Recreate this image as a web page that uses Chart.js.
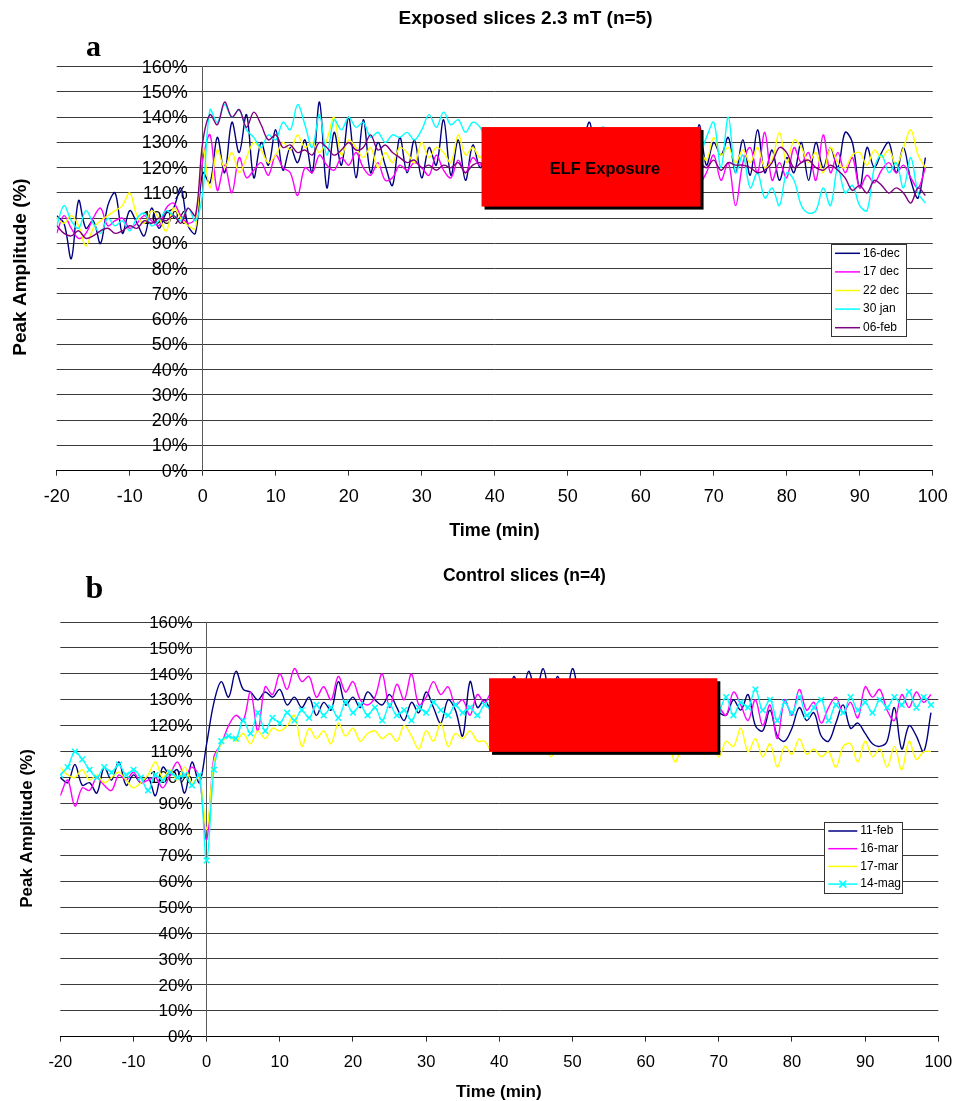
<!DOCTYPE html>
<html>
<head>
<meta charset="utf-8">
<script src="https://cdn.jsdelivr.net/npm/chart.js@4.4.1/dist/chart.umd.min.js"></script>
<style>
body { margin: 0; background: #fff; }
.wrap { position: absolute; left: 0; width: 956px; }
</style>
</head>
<body>
<div class="wrap" style="top:0;height:555px"><canvas id="chartA" width="956" height="555"></canvas></div>
<div class="wrap" style="top:550px;height:551px"><canvas id="chartB" width="956" height="551"></canvas></div>
<script>
// time in minutes, one sample per minute
const time = [-20, -19, -18, -17, -16, -15, -14, -13, -12, -11, -10, -9, -8, -7, -6, -5, -4, -3, -2, -1,
	0, 1, 2, 3, 4, 5, 6, 7, 8, 9, 10, 11, 12, 13, 14, 15, 16, 17, 18, 19,
	20, 21, 22, 23, 24, 25, 26, 27, 28, 29, 30, 31, 32, 33, 34, 35, 36, 37, 38, 39,
	40, 41, 42, 43, 44, 45, 46, 47, 48, 49, 50, 51, 52, 53, 54, 55, 56, 57, 58, 59,
	60, 61, 62, 63, 64, 65, 66, 67, 68, 69, 70, 71, 72, 73, 74, 75, 76, 77, 78, 79,
	80, 81, 82, 83, 84, 85, 86, 87, 88, 89, 90, 91, 92, 93, 94, 95, 96, 97, 98, 99];

const yTicks = [0, 10, 20, 30, 40, 50, 60, 70, 80, 90, 100, 110, 120, 130, 140, 150, 160];
const xTicks = [-20, -10, 0, 10, 20, 30, 40, 50, 60, 70, 80, 90, 100];

// (a) exposed slices
const labelsA = ['16-dec', '17 dec', '22 dec', '30 jan', '06-feb'];
const dec16 = [101, 98, 84, 107, 96, 99, 90, 105, 110, 94, 103, 98, 93, 104, 96, 102, 104, 112, 97, 94,
	118, 114, 132, 118, 138, 126, 141, 116, 130, 121, 135, 119, 128, 122, 131, 118, 146, 112, 134, 121,
	140, 116, 139, 118, 130, 121, 113, 132, 118, 131, 116, 128, 121, 139, 117, 131, 115, 129,
	120, 126, 118, 129, 121, 127, 115, 130, 122, 126, 119, 131, 124, 120, 128, 138, 122, 127, 118, 130,
	123, 126, 117, 129, 122, 128, 120, 131, 124, 120,
	137, 121, 130, 125, 132, 118, 131, 117, 135, 118, 127, 115, 124, 118, 130, 115, 130, 120, 128, 120,
	134, 130, 112, 128, 120, 126, 130, 118, 128, 115, 108, 124];
const dec17 = [94, 101, 96, 92, 94, 100, 104, 97, 99, 100, 96, 98, 101, 99, 97, 104, 106, 101, 98, 100,
	123, 133, 111, 121, 110, 124, 116, 119, 122, 117, 125, 120, 118, 109, 120, 118, 125, 121, 119, 124,
	121, 126, 120, 117, 122, 115, 116, 121, 119, 122, 120, 117, 125, 119, 116, 123, 118, 124,
	121, 125, 118, 123, 120, 126, 119, 122, 117, 124, 121, 119, 125, 118, 122, 120, 126, 119, 123, 117,
	122, 125, 119, 121, 124, 118, 122, 120, 125, 118,
	114, 118, 125, 115, 122, 105, 122, 128, 118, 134, 115, 122, 116, 128, 122, 126, 115, 133, 118, 126,
	118, 124, 112, 117, 114, 119, 122, 118, 121, 116, 112, 120];
const dec22 = [100, 98, 101, 97, 89, 96, 99, 101, 103, 105, 110, 101, 98, 103, 100, 95, 104, 100, 97, 96,
	128, 112, 127, 120, 126, 118, 124, 130, 127, 122, 125, 130, 127, 133, 128, 130, 126, 131, 140, 125,
	131, 128, 124, 128, 120, 126, 122, 128, 126, 122, 130, 124, 128, 126, 122, 133, 125, 128,
	124, 129, 122, 127, 125, 130, 123, 126, 128, 122, 127, 124, 129, 125, 122, 128, 126, 123, 129, 124,
	127, 122, 126, 129, 123, 127, 125, 122, 128, 124,
	127, 123, 132, 125, 128, 122, 127, 122, 128, 120, 123, 134, 122, 131, 128, 122, 126, 118, 128, 122,
	120, 125, 126, 121, 127, 124, 127, 121, 128, 135, 125, 120];
const jan30 = [97, 105, 99, 96, 103, 98, 94, 100, 97, 99, 95, 100, 102, 97, 99, 103, 101, 99, 104, 99,
	110, 143, 138, 145, 140, 143, 135, 132, 128, 133, 131, 138, 135, 145, 137, 128, 141, 125, 139, 135,
	140, 136, 138, 132, 134, 130, 133, 132, 134, 131, 135, 141, 136, 142, 137, 139, 134, 138,
	136, 131, 134, 129, 133, 130, 135, 128, 132, 134, 129, 131, 127, 133, 130, 128, 134, 136, 130, 127,
	132, 129, 131, 126, 130, 128, 132, 127, 130, 126,
	125, 132, 138, 120, 140, 118, 125, 112, 118, 108, 112, 105, 118, 115, 105, 102, 103, 112, 105, 120,
	110, 113, 105, 103, 120, 125, 118, 122, 112, 124, 110, 106];
const feb06 = [97, 94, 93, 95, 92, 93, 95, 96, 94, 95, 97, 96, 99, 98, 100, 99, 101, 98, 104, 101,
	130, 141, 137, 146, 140, 143, 136, 142, 137, 131, 133, 128, 129, 126, 127, 125, 130, 128, 125, 127,
	130, 127, 128, 133, 127, 129, 126, 124, 122, 123, 120, 121, 119, 121, 120, 122, 118, 121,
	122, 120, 123, 121, 119, 122, 124, 120, 121, 123, 120, 122, 119, 121, 124, 120, 122, 121, 123, 119,
	121, 122, 120, 124, 121, 119, 122, 123, 120, 121,
	122, 120, 123, 119, 122, 121, 121, 120, 118, 119, 122, 128, 126, 120, 122, 123, 120, 119, 121, 119,
	116, 111, 113, 110, 115, 113, 110, 112, 110, 106, 112, 109];
const colorsA = ['#000080', '#ff00ff', '#ffff00', '#00ffff', '#800080'];

// (b) control slices
const labelsB = ['11-feb', '16-mar', '17-mar', '14-mag'];
const feb11 = [100, 98, 105, 97, 98, 94, 104, 99, 106, 97, 101, 98, 100, 93, 104, 101, 103, 94, 106, 98,
	113, 129, 137, 131, 141, 134, 133, 130, 133, 131, 134, 128, 131, 127, 131, 124, 129, 126, 137, 128,
	131, 127, 133, 130, 128, 132, 127, 122, 129, 125, 133, 127, 121, 130, 126, 116, 137, 127,
	130, 125, 132, 128, 139, 130, 141, 133, 142, 131, 139, 129, 142, 132, 130, 128, 133, 127, 131, 129,
	125, 132, 128, 130, 126, 131, 127, 129, 124, 130, 128, 126,
	125, 124, 130, 126, 132, 120, 118, 126, 116, 114, 119, 127, 122, 125, 116, 114, 121, 128, 119, 121,
	117, 113, 112, 114, 127, 111, 120, 116, 110, 125];
const mar16 = [93, 99, 89, 96, 95, 100, 97, 95, 101, 99, 102, 98, 99, 100, 96, 101, 106, 101, 104, 100,
	76, 108, 113, 120, 124, 122, 133, 118, 135, 132, 140, 134, 142, 137, 139, 131, 135, 130, 139, 133,
	137, 130, 128, 131, 140, 127, 136, 130, 140, 128, 131, 137, 132, 135, 128, 130, 124, 132,
	129, 133, 127, 131, 128, 134, 126, 130, 128, 132, 127, 133, 129, 126, 131, 128, 136, 129, 127, 132,
	126, 130, 128, 133, 127, 129, 125, 131, 128, 126, 130, 127,
	127, 124, 133, 128, 122, 130, 120, 128, 115, 130, 124, 134, 126, 129, 121, 127, 131, 125, 129, 123,
	135, 131, 134, 126, 122, 132, 127, 133, 129, 132];
const mar17 = [104, 101, 100, 103, 99, 101, 98, 100, 102, 99, 96, 98, 101, 106, 100, 103, 99, 104, 98, 100,
	80, 106, 113, 116, 114, 117, 113, 118, 115, 119, 118, 120, 124, 112, 119, 115, 118, 113, 121, 116,
	119, 114, 117, 118, 115, 117, 114, 120, 116, 111, 118, 114, 121, 112, 117, 115, 118, 114,
	114, 110, 116, 112, 115, 111, 114, 112, 116, 108, 113, 115, 112, 114, 111, 115, 113, 112, 114, 110,
	115, 112, 114, 113, 111, 115, 106, 112, 114, 111, 109, 113,
	108, 114, 112, 119, 110, 115, 108, 113, 104, 112, 109, 115, 109, 111, 108, 110, 104, 112, 113, 106,
	114, 108, 111, 104, 112, 103, 114, 107, 110, 110];
const mag14 = [101, 104, 110, 107, 103, 100, 104, 102, 105, 101, 103, 100, 95, 101, 99, 102, 100, 101, 97, 101,
	68, 103, 114, 116, 115, 122, 117, 125, 118, 123, 121, 125, 122, 126, 123, 128, 124, 127, 123, 129,
	125, 128, 124, 127, 122, 128, 124, 126, 122, 127, 125, 129, 126, 124, 128, 125, 127, 124,
	128, 126, 130, 127, 125, 129, 126, 128, 124, 127, 130, 126, 128, 125, 129, 127, 126, 130, 128, 125,
	127, 129, 126, 128, 124, 127, 129, 126, 128, 125, 127, 126,
	126, 131, 124, 129, 127, 134, 126, 130, 122, 129, 125, 131, 124, 127, 130, 122, 128, 125, 131, 126,
	129, 125, 130, 127, 131, 128, 133, 127, 131, 128];
const colorsB = ['#000080', '#ff00ff', '#ffff00', '#00ffff'];

const FONT = '"Liberation Sans", Arial, sans-serif';

const toPoints = (values) => time.map((t, i) => ({ x: t, y: values[i] }));

const decoPlugin = {
	id: 'deco',
	beforeDatasetsDraw(chart, args, opts) {
		// y tick labels sit left of the axis drawn at x = 0
		const { ctx } = chart;
		const x = chart.scales.x;
		const y = chart.scales.y;
		const ax = x.getPixelForValue(0);
		ctx.save();
		ctx.fillStyle = '#000';
		ctx.font = opts.yLabels.size + 'px ' + FONT;
		ctx.textAlign = 'right';
		ctx.textBaseline = 'middle';
		y.ticks.forEach((t) => {
			ctx.fillText(t.value + '%', ax - opts.yLabels.gap, y.getPixelForValue(t.value) + 1);
		});
		ctx.restore();
	},
	afterDatasetsDraw(chart, args, opts) {
		const { ctx } = chart;
		const x = chart.scales.x;
		const y = chart.scales.y;
		const b = opts.box;
		const l = x.getPixelForValue(b.x0);
		const r = x.getPixelForValue(b.x1);
		const t = y.getPixelForValue(b.y1);
		const btm = y.getPixelForValue(b.y0);
		ctx.save();
		ctx.fillStyle = '#000';
		ctx.fillRect(l + 3, t + 3, r - l, btm - t);
		ctx.fillStyle = '#ff0000';
		ctx.fillRect(l, t, r - l, btm - t);
		if (b.text) {
			ctx.fillStyle = '#000';
			ctx.font = 'bold ' + b.textSize + 'px ' + FONT;
			ctx.textAlign = 'center';
			ctx.textBaseline = 'middle';
			ctx.fillText(b.text, x.getPixelForValue(b.tx), y.getPixelForValue(b.ty));
		}
		ctx.restore();
	},
	afterDraw(chart, args, opts) {
		const { ctx } = chart;
		ctx.save();
		ctx.fillStyle = '#000';
		ctx.textAlign = 'center';
		ctx.textBaseline = 'middle';
		// chart title
		ctx.font = 'bold ' + opts.title.size + 'px ' + FONT;
		ctx.fillText(opts.title.text, opts.title.x, opts.title.y);
		// x axis title
		ctx.font = 'bold ' + opts.xTitle.size + 'px ' + FONT;
		ctx.fillText(opts.xTitle.text, opts.xTitle.x, opts.xTitle.y);
		// y axis title
		ctx.save();
		ctx.translate(opts.yTitle.x, opts.yTitle.y);
		ctx.rotate(-Math.PI / 2);
		ctx.font = 'bold ' + opts.yTitle.size + 'px ' + FONT;
		ctx.fillText(opts.yTitle.text, 0, 0);
		ctx.restore();
		// panel letter
		ctx.textBaseline = 'alphabetic';
		ctx.font = 'bold ' + opts.letter.size + 'px "Liberation Serif", "Times New Roman", serif';
		ctx.fillText(opts.letter.text, opts.letter.x, opts.letter.y);
		// legend
		const lg = opts.legend;
		ctx.fillStyle = '#fff';
		ctx.fillRect(lg.x, lg.y, lg.w, lg.h);
		ctx.strokeStyle = '#333';
		ctx.lineWidth = 1;
		ctx.strokeRect(Math.round(lg.x) + 0.5, Math.round(lg.y) + 0.5, Math.round(lg.w), Math.round(lg.h));
		ctx.font = lg.size + 'px ' + FONT;
		ctx.textAlign = 'left';
		ctx.textBaseline = 'middle';
		chart.data.datasets.forEach((ds, i) => {
			const ry = lg.y + lg.first + i * lg.step;
			ctx.strokeStyle = ds.borderColor;
			ctx.lineWidth = 1.5;
			ctx.beginPath();
			ctx.moveTo(lg.x + 4, ry);
			ctx.lineTo(lg.x + 4 + lg.line, ry);
			ctx.stroke();
			if (ds.pointRadius > 0) {
				const cx = lg.x + 4 + lg.line / 2;
				ctx.beginPath();
				ctx.moveTo(cx - 3.5, ry - 3.5);
				ctx.lineTo(cx + 3.5, ry + 3.5);
				ctx.moveTo(cx + 3.5, ry - 3.5);
				ctx.lineTo(cx - 3.5, ry + 3.5);
				ctx.stroke();
			}
			ctx.fillStyle = '#000';
			ctx.fillText(ds.label, lg.x + 7 + lg.line, ry);
		});
		ctx.restore();
	},
};

function makeOptions(cfg) {
	return {
		responsive: false,
		animation: false,
		layout: { padding: cfg.padding },
		plugins: {
			legend: { display: false },
			tooltip: { enabled: false },
			deco: cfg.deco,
		},
		scales: {
			x: {
				type: 'linear',
				min: -20,
				max: 100,
				afterBuildTicks: (s) => { s.ticks = xTicks.map((v) => ({ value: v })); },
				afterFit: (s) => { s.height = 40; s.paddingLeft = 0; s.paddingRight = 0; },
				grid: { drawOnChartArea: false, drawTicks: true, tickLength: 5, color: '#333' },
				border: { color: '#000', width: 1 },
				ticks: { color: '#000', padding: 11, font: { family: FONT, size: cfg.xTickSize }, maxRotation: 0 },
			},
			y: {
				type: 'linear',
				position: { x: 0 },
				min: 0,
				max: 160,
				afterBuildTicks: (s) => { s.ticks = yTicks.map((v) => ({ value: v })); },
				afterFit: (s) => { s.paddingTop = 0; s.paddingBottom = 0; },
				grid: { color: '#3a3a3a', lineWidth: 1, tickLength: 3 },
				border: { color: '#5a5a5a', width: 1 },
				ticks: { display: false },
			},
		},
	};
}

const seriesA = [dec16, dec17, dec22, jan30, feb06];
new Chart(document.getElementById('chartA'), {
	type: 'line',
	data: {
		datasets: seriesA.map((s, i) => ({
			label: labelsA[i],
			data: toPoints(s),
			borderColor: colorsA[i],
			backgroundColor: colorsA[i],
			borderWidth: 1.4,
			pointRadius: 0,
			tension: 0.35,
			fill: false,
			order: seriesA.length - i,
		})),
	},
	options: makeOptions({
		padding: { left: 56.7, right: 23.3, top: 66.7, bottom: 44.3 },
		xTickSize: 18,
		deco: {
			yLabels: { size: 18, gap: 15 },
			box: { x0: 38.2, x1: 68.2, y0: 104.6, y1: 136.1, text: 'ELF Exposure', textSize: 16.4, tx: 55.1, ty: 119.1 },
			title: { text: 'Exposed slices 2.3 mT (n=5)', size: 19, x: 525.5, y: 18.5 },
			xTitle: { text: 'Time (min)', size: 18, x: 494.5, y: 531.5 },
			yTitle: { text: 'Peak Amplitude (%)', size: 19, x: 21, y: 267 },
			letter: { text: 'a', size: 30, x: 93.5, y: 56 },
			legend: { x: 831, y: 244.3, w: 75, h: 92, first: 9, step: 18.6, line: 25, size: 12 },
		},
	}),
	plugins: [decoPlugin],
});

const seriesB = [feb11, mar16, mar17, mag14];
new Chart(document.getElementById('chartB'), {
	type: 'line',
	data: {
		datasets: seriesB.map((s, i) => ({
			label: labelsB[i],
			data: toPoints(s),
			borderColor: colorsB[i],
			backgroundColor: colorsB[i],
			borderWidth: 1.4,
			pointRadius: i === 3 ? 4 : 0,
			pointStyle: 'crossRot',
			pointBorderWidth: 1.5,
			pointBorderColor: colorsB[i],
			tension: 0.35,
			fill: false,
			order: seriesB.length - i,
		})),
	},
	options: makeOptions({
		padding: { left: 60.3, right: 17.7, top: 72, bottom: 24.3 },
		xTickSize: 16.5,
		deco: {
			yLabels: { size: 17, gap: 14 },
			box: { x0: 38.6, x1: 69.8, y0: 109.9, y1: 138.3 },
			title: { text: 'Control slices (n=4)', size: 17.5, x: 524.4, y: 26 },
			xTitle: { text: 'Time (min)', size: 17, x: 498.8, y: 542 },
			yTitle: { text: 'Peak Amplitude (%)', size: 17, x: 27.5, y: 278.5 },
			letter: { text: 'b', size: 32, x: 94.5, y: 48 },
			legend: { x: 824.3, y: 271.7, w: 78, h: 70.6, first: 9.3, step: 17.7, line: 29, size: 12 },
		},
	}),
	plugins: [decoPlugin],
});
</script>
</body>
</html>
